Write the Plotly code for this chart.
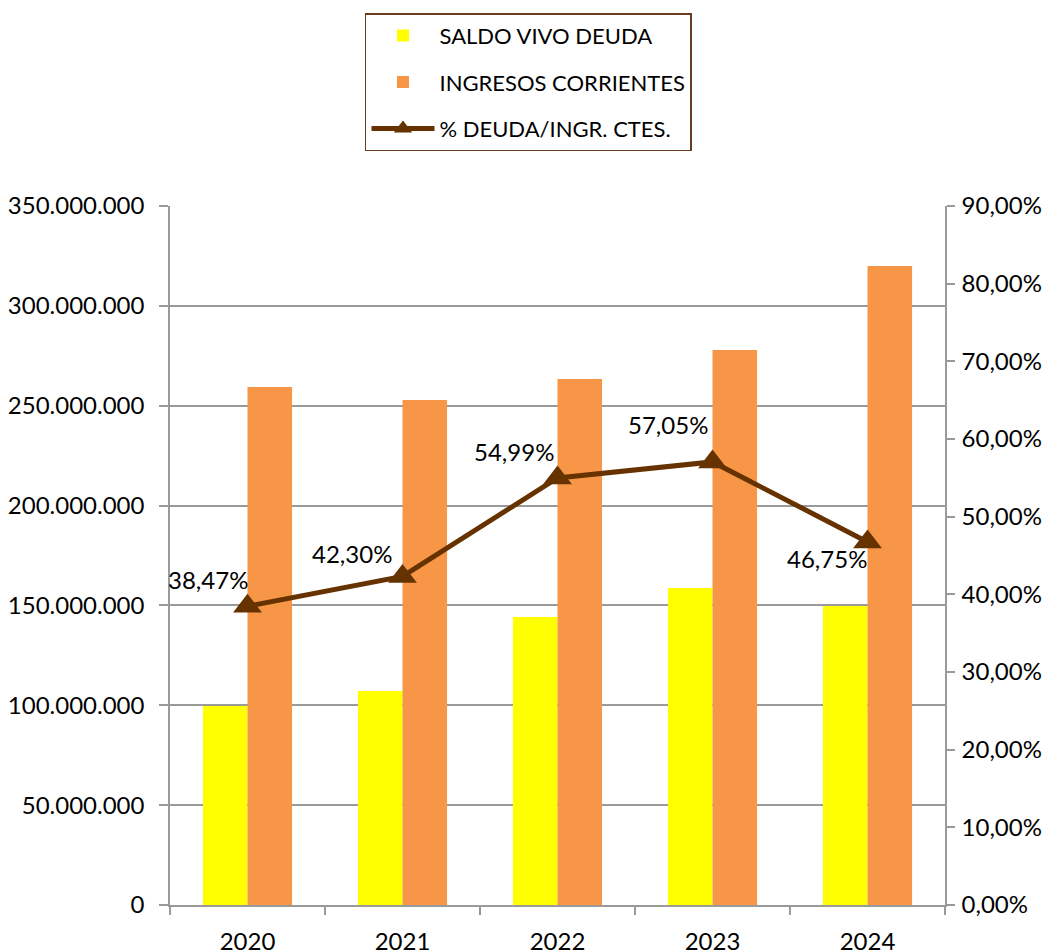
import plotly.graph_objects as go

years = ["2020", "2021", "2022", "2023", "2024"]
saldo_vivo = [99600000, 107200000, 144200000, 158700000, 149700000]
ingresos = [259400000, 252900000, 263400000, 277900000, 320000000]
pct_deuda = [0.3847, 0.4230, 0.5499, 0.5705, 0.4675]
pct_labels = ["38,47%", "42,30%", "54,99%", "57,05%", "46,75%"]

# label offsets (pixels) relative to each point
label_xshift = [2, -9, -2, -3, 1]
label_yshift = [27, 23, 26, 37, -17]

FONT = "Lato"
GRID = "#9a9a9a"

fig = go.Figure()
fig.add_trace(go.Bar(x=years, y=saldo_vivo, name="SALDO VIVO DEUDA",
                     marker=dict(color="#FFFF00", line=dict(width=0)),
                     legendgroup="a"))
fig.add_trace(go.Bar(x=years, y=ingresos, name="INGRESOS CORRIENTES",
                     marker=dict(color="#F79646", line=dict(width=0)),
                     legendgroup="b"))
fig.add_trace(go.Scatter(x=years, y=pct_deuda, name="% DEUDA/INGR. CTES.",
                         yaxis="y2", mode="lines+markers",
                         line=dict(color="#663300", width=5),
                         marker=dict(symbol="triangle-up", size=25, color="#663300"),
                         legendgroup="c"))

for i in range(len(years)):
    fig.add_annotation(x=i, y=pct_deuda[i], xref="x", yref="y2", text=pct_labels[i],
                       showarrow=False, xanchor="right", yanchor="middle",
                       xshift=label_xshift[i], yshift=label_yshift[i],
                       font=dict(family=FONT, size=24, color="#000000"))

fig.update_layout(
    width=1054, height=951,
    paper_bgcolor="white", plot_bgcolor="white",
    separators=",.",
    barmode="group", bargap=0.425, bargroupgap=0,
    margin=dict(l=170, r=109, t=206, b=46, autoexpand=False),
    font=dict(family=FONT, size=24, color="#000000"),
    xaxis=dict(type="category", categoryorder="array", categoryarray=years,
               range=[-0.5, len(years) - 0.5],
               tickson="boundaries", ticks="outside", ticklen=8,
               tickcolor=GRID, tickwidth=1.5, showline=True, linecolor=GRID, linewidth=1.5,
               showgrid=False, tickfont=dict(size=24), tickangle=0,
               ticklabelstandoff=14),
    yaxis=dict(range=[0, 350000000], dtick=50000000, tickformat=",d",
               showgrid=True, gridcolor=GRID, gridwidth=1.5,
               showline=True, linecolor=GRID, linewidth=1.5,
               ticks="outside", ticklen=9, tickcolor=GRID, tickwidth=1.5,
               zeroline=False, tickfont=dict(size=24), ticklabelstandoff=10),
    yaxis2=dict(range=[0, 0.9], dtick=0.1, tickformat=".2%", overlaying="y", side="right",
                showgrid=False, showline=True, linecolor=GRID, linewidth=1.5,
                ticks="outside", ticklen=8, tickcolor=GRID, tickwidth=1.5,
                zeroline=False, tickfont=dict(size=24), ticklabelstandoff=2),
    legend=dict(x=0.2516, y=1.276, xanchor="left", yanchor="top",
                bordercolor="#6b3d1e", borderwidth=1.5, bgcolor="white",
                font=dict(size=22), tracegroupgap=15, traceorder="grouped",
                itemwidth=63),
    showlegend=True,
)

fig.write_html("out.html", config={"displayModeBar": False},
               post_script="document.body.style.margin='0';")
